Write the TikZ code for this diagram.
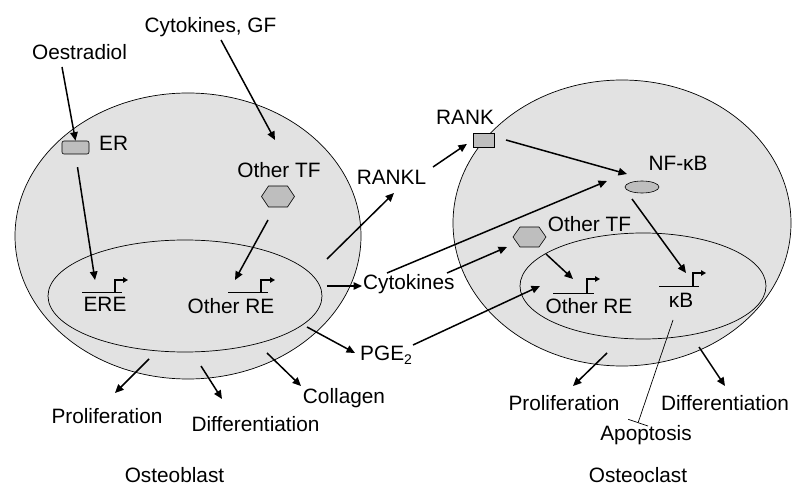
\documentclass[tikz,border=0pt]{standalone}
\usepackage{fontspec}
\setmainfont{Liberation Sans}
\usetikzlibrary{arrows.meta,shapes.geometric,calc}
\definecolor{cellGray}{HTML}{E2E2E2}
\definecolor{partGray}{HTML}{BEBEBE}

\begin{document}
\begin{tikzpicture}[x=1pt,y=-1pt,
  cell/.style={draw,ellipse,fill=cellGray,line width=0.7pt,inner sep=0pt},
  nucleus/.style={draw,ellipse,line width=0.7pt,inner sep=0pt},
  part/.style={draw,fill=partGray,line width=0.6pt,inner sep=0pt},
  lbl/.style={font=\fontsize{20.8}{24}\selectfont,inner sep=0pt,anchor=base},
  flow/.style={-{Triangle[length=8.5pt,width=7.5pt]},line width=1.5pt},
  gene/.style={line width=0.9pt},
  genestart/.style={-{Triangle[length=5pt,width=5.5pt]},line width=1.2pt},
  inhibit/.style={-{Bar[width=21pt,line width=0.7pt]},line width=0.7pt}]

  \useasboundingbox (0,0) rectangle (792,486);

  % cells and nuclei
  \node[cell,minimum width=346pt,minimum height=286pt] (blastcell) at (188,236) {};
  \node[nucleus,minimum width=274pt,minimum height=112pt] (blastnuc) at (185,296) {};
  \node[cell,minimum width=338pt,minimum height=286pt] (clastcell) at (622,223) {};
  \node[nucleus,minimum width=246pt,minimum height=106pt] (clastnuc) at (643,286) {};

  % receptors and factors
  \node[part,rounded corners=2pt,minimum width=27pt,minimum height=13pt] (er) at (75.5,147.5) {};
  \node[part,minimum width=21pt,minimum height=14pt] (rank) at (483.5,140) {};
  \node[part,ellipse,minimum width=34pt,minimum height=12pt] (nfkb) at (642,187) {};
  \coordinate (tfL) at (278,196.5);
  \coordinate (tfR) at (529.5,237);
  \draw[part] ($(tfL)+(-16.5,0)$) -- ++(7,-10.5) -- ++(19,0) -- ++(7,10.5)
    -- ++(-7,10.5) -- ++(-19,0) -- cycle;
  \draw[part] ($(tfR)+(-16.5,0)$) -- ++(7,-10) -- ++(19,0) -- ++(7,10)
    -- ++(-7,10) -- ++(-19,0) -- cycle;

  % labels
  \node[lbl] (gf) at (210.5,33) {Cytokines, GF};
  \node[lbl] (oestr) at (79.5,60) {Oestradiol};
  \node[lbl,anchor=base west] (erlab) at (99,151) {ER};
  \node[lbl] (tfLlab) at (279,178) {Other TF};
  \node[lbl] (rankl) at (391.5,185) {RANKL};
  \node[lbl] (ere) at (105,311) {ERE};
  \node[lbl] (reL) at (231,313) {Other RE};
  \node[lbl,anchor=base west] (cyto) at (363,290) {Cytokines};
  \node[lbl,anchor=base west] (pge) at (360,360)
    {PGE\raisebox{-0.45ex}{\fontsize{14}{14}\selectfont 2}};
  \node[lbl] (collagen) at (344,403) {Collagen};
  \node[lbl] (prolL) at (107,423) {Proliferation};
  \node[lbl] (diffL) at (255.5,431) {Differentiation};
  \node[lbl] (blast) at (174.5,482) {Osteoblast};
  \node[lbl] (ranklab) at (465,125) {RANK};
  \node[lbl] (nflab) at (678,171) {NF-κB};
  \node[lbl] (tfRlab) at (589.5,232) {Other TF};
  \node[lbl] (reR) at (589,313) {Other RE};
  \node[lbl] (kb) at (681,307) {κB};
  \node[lbl] (prolR) at (564,410) {Proliferation};
  \node[lbl] (diffR) at (725,410) {Differentiation};
  \node[lbl] (apop) at (646,440) {Apoptosis};
  \node[lbl] (clast) at (638,482) {Osteoclast};

  % genes
  \draw[gene] (82,292) -- (122,292);
  \draw[genestart] (115,292) |- (128,280);
  \draw[gene] (228,292) -- (268,292);
  \draw[genestart] (261,292) |- (275,280);
  \draw[gene] (553,293) -- (594,293);
  \draw[genestart] (587,293) |- (600,279);
  \draw[gene] (659,286) -- (699,286);
  \draw[genestart] (693,286) |- (706,273);

  % free ends
  \coordinate (oe-out) at (62,67);
  \coordinate (gf-out) at (221,40);
  \coordinate (tf-in) at (275,140);
  \coordinate (ere-in) at (95,280);
  \coordinate (tfL-out) at (268,220);
  \coordinate (reL-in) at (235,280);
  \coordinate (rankl-out) at (327,259);
  \coordinate (rankl-in) at (394,193);
  \coordinate (cyto-out) at (327,286);
  \coordinate (cyto-in) at (362,286);
  \coordinate (pge-out) at (307,327);
  \coordinate (pge-in) at (355,353);
  \coordinate (prolL-out) at (149,359);
  \coordinate (prolL-in) at (115,393);
  \coordinate (diffL-out) at (201,366);
  \coordinate (diffL-in) at (222,399);
  \coordinate (coll-out) at (267,353);
  \coordinate (coll-in) at (301,386);
  \coordinate (rank-from) at (433,167);
  \coordinate (rank-out) at (506,140);
  \coordinate (nf-in) at (627,174);
  \coordinate (cyto-nf) at (387,273);
  \coordinate (nf-in2) at (607,181);
  \coordinate (cyto-tf) at (447,273);
  \coordinate (tfR-in) at (507,247);
  \coordinate (tfR-out) at (546,254);
  \coordinate (reR-in) at (573,279);
  \coordinate (nf-out) at (632,199);
  \coordinate (kb-in) at (686,273);
  \coordinate (pge-nuc) at (413,345);
  \coordinate (nuc-in) at (540,286);
  \coordinate (prolR-out) at (607,353);
  \coordinate (prolR-in) at (573,386);
  \coordinate (diffR-out) at (699,347);
  \coordinate (diffR-in) at (725,386);
  \coordinate (kb-out) at (673,320);
  \coordinate (apop-in) at (638,423);

  % osteoblast connectors
  \draw[flow] (oe-out) -- (er.north);
  \draw[flow] (gf-out) -- (tf-in);
  \draw[flow,shorten <=13pt] (er.south) -- (ere-in);
  \draw[flow] (tfL-out) -- (reL-in);
  \draw[flow] (rankl-out) -- (rankl-in);
  \draw[flow] (cyto-out) -- (cyto-in);
  \draw[flow] (pge-out) -- (pge-in);
  \draw[flow] (prolL-out) -- (prolL-in);
  \draw[flow] (diffL-out) -- (diffL-in);
  \draw[flow] (coll-out) -- (coll-in);

  % osteoclast connectors
  \draw[flow,shorten >=7pt] (rank-from) -- (rank.west);
  \draw[flow] (rank-out) -- (nf-in);
  \draw[flow] (cyto-nf) -- (nf-in2);
  \draw[flow] (cyto-tf) -- (tfR-in);
  \draw[flow] (tfR-out) -- (reR-in);
  \draw[flow] (nf-out) -- (kb-in);
  \draw[flow] (pge-nuc) -- (nuc-in);
  \draw[flow] (prolR-out) -- (prolR-in);
  \draw[flow] (diffR-out) -- (diffR-in);
  \draw[inhibit] (kb-out) -- (apop-in);
\end{tikzpicture}
\end{document}
